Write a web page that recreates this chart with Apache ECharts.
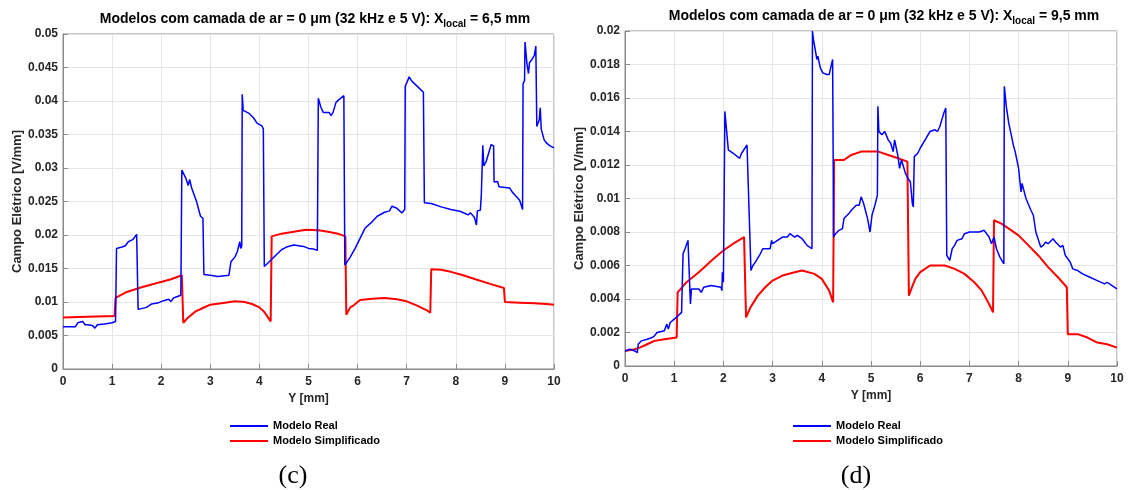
<!DOCTYPE html>
<html>
<head>
<meta charset="utf-8">
<script src="https://cdn.jsdelivr.net/npm/echarts@6/dist/echarts.min.js"></script>
<style>
  html, body { margin: 0; padding: 0; background: #fff; }
  #chart { width: 1128px; height: 490px; }
</style>
</head>
<body>
<div id="chart"></div>
<script>
// Campo elétrico ao longo de Y para dois X_local (pares [Y em mm, campo em V/mm])
const seriesNames = ['Modelo Real', 'Modelo Simplificado'];
const captions = ['(c)', '(d)'];
const xLocals = ['6,5 mm', '9,5 mm'];

// X_local = 6,5 mm
const realC = [
  [0,0.0063],[0.25,0.0063],[0.3,0.0069],[0.4,0.0071],[0.45,0.0066],[0.5,0.0066],[0.6,0.0065],[0.65,0.0061],
  [0.7,0.0066],[0.85,0.0067],[1.0,0.0069],[1.07,0.0071],[1.09,0.018],[1.2,0.0182],[1.27,0.0184],[1.33,0.019],
  [1.42,0.0193],[1.5,0.0201],[1.53,0.0089],[1.7,0.0092],[1.8,0.0097],[1.95,0.0099],[2.05,0.0102],[2.15,0.0104],
  [2.2,0.0101],[2.25,0.0106],[2.4,0.011],[2.42,0.0297],[2.5,0.0285],[2.55,0.0274],[2.58,0.0283],[2.62,0.027],
  [2.72,0.025],[2.8,0.0228],[2.85,0.0225],[2.87,0.0141],[3.0,0.014],[3.15,0.0138],[3.38,0.014],[3.42,0.016],
  [3.5,0.0167],[3.55,0.0175],[3.6,0.019],[3.62,0.018],[3.64,0.0183],[3.65,0.041],[3.67,0.0386],[3.78,0.0382],
  [3.88,0.0375],[3.95,0.0367],[4.05,0.0363],[4.08,0.0358],[4.1,0.0153],[4.2,0.016],[4.35,0.0171],[4.45,0.0178],
  [4.55,0.0182],[4.7,0.0185],[4.9,0.0183],[5.0,0.018],[5.1,0.0179],[5.18,0.0177],[5.2,0.0404],[5.25,0.0391],
  [5.3,0.0383],[5.42,0.0383],[5.46,0.0378],[5.5,0.0383],[5.56,0.0398],[5.62,0.0402],[5.66,0.0404],[5.72,0.0408],
  [5.74,0.0155],[5.85,0.0167],[5.95,0.018],[6.05,0.0195],[6.15,0.021],[6.3,0.022],[6.4,0.0228],[6.55,0.0234],
  [6.65,0.0236],[6.7,0.0243],[6.8,0.024],[6.9,0.0233],[6.96,0.0238],[6.97,0.0422],[7.0,0.0427],[7.05,0.0436],
  [7.1,0.043],[7.2,0.0423],[7.34,0.0413],[7.36,0.0248],[7.5,0.0247],[7.7,0.0242],[7.9,0.0238],[8.1,0.0235],
  [8.25,0.023],[8.3,0.0233],[8.38,0.0226],[8.42,0.0215],[8.44,0.0236],[8.5,0.0237],[8.52,0.026],[8.55,0.0334],
  [8.57,0.0303],[8.62,0.031],[8.68,0.0325],[8.72,0.0335],[8.77,0.0333],[8.78,0.0279],[8.85,0.028],[8.88,0.0272],
  [9.0,0.0271],[9.1,0.027],[9.15,0.0264],[9.2,0.026],[9.25,0.0256],[9.3,0.0252],[9.36,0.0238],[9.37,0.0426],
  [9.4,0.043],[9.41,0.0488],[9.45,0.0455],[9.48,0.0441],[9.5,0.0457],[9.55,0.0462],[9.6,0.0468],[9.63,0.0482],
  [9.65,0.0362],[9.7,0.0372],[9.72,0.039],[9.74,0.0358],[9.77,0.0357],[9.8,0.0342],[9.85,0.0337],[9.92,0.0333],
  [10,0.033]
];
const simpC = [
  [0,0.0077],[0.5,0.0078],[1.05,0.0079],[1.07,0.0106],[1.3,0.0115],[1.6,0.0122],[1.9,0.0128],[2.2,0.0134],
  [2.42,0.014],[2.45,0.0069],[2.55,0.0077],[2.7,0.0086],[2.85,0.0091],[3.0,0.0096],[3.3,0.0099],[3.5,0.0101],
  [3.7,0.01],[3.85,0.0097],[4.0,0.0092],[4.1,0.0085],[4.23,0.0071],[4.25,0.0198],[4.45,0.0202],[4.7,0.0205],
  [4.95,0.0208],[5.2,0.0207],[5.4,0.0205],[5.6,0.0202],[5.75,0.0198],[5.77,0.0081],[5.85,0.0092],[5.92,0.0095],
  [6.05,0.0103],[6.3,0.0105],[6.55,0.0106],[6.8,0.0104],[7.0,0.0101],[7.2,0.0095],[7.4,0.0088],[7.48,0.0084],
  [7.5,0.0149],[7.7,0.0148],[7.9,0.0145],[8.15,0.014],[8.4,0.0134],[8.7,0.0127],[8.98,0.0121],[9.0,0.01],
  [9.3,0.0099],[9.6,0.0098],[9.85,0.0097],[10,0.0096]
];

// X_local = 9,5 mm
const realD = [
  [0,0.0009],[0.1,0.001],[0.2,0.0009],[0.25,0.0008],[0.27,0.0013],[0.3,0.0012],[0.33,0.0015],[0.45,0.0016],
  [0.55,0.0017],[0.6,0.0018],[0.65,0.002],[0.8,0.0021],[0.85,0.0025],[0.88,0.0022],[0.92,0.0026],[1.0,0.0028],
  [1.08,0.003],[1.15,0.0032],[1.18,0.0067],[1.22,0.007],[1.28,0.0075],[1.33,0.0037],[1.35,0.0046],[1.5,0.0046],
  [1.55,0.0044],[1.6,0.0047],[1.75,0.0048],[1.95,0.0047],[1.97,0.0045],[1.98,0.0056],[2.0,0.005],[2.02,0.0051],
  [2.03,0.0152],[2.1,0.0129],[2.2,0.0127],[2.33,0.0124],[2.37,0.0127],[2.48,0.0132],[2.56,0.0057],[2.6,0.006],
  [2.65,0.0062],[2.75,0.0067],[2.8,0.007],[2.95,0.007],[2.98,0.0075],[3.0,0.0073],[3.1,0.0075],[3.2,0.0077],
  [3.3,0.0077],[3.35,0.0079],[3.45,0.0077],[3.5,0.0078],[3.6,0.0076],[3.7,0.0072],[3.8,0.007],[3.81,0.02],
  [3.83,0.0195],[3.9,0.0183],[3.92,0.0185],[3.97,0.0178],[4.02,0.0175],[4.1,0.0174],[4.15,0.0174],[4.18,0.0178],
  [4.22,0.0183],[4.24,0.0077],[4.28,0.0079],[4.35,0.0081],[4.42,0.0082],[4.45,0.0088],[4.55,0.0091],[4.6,0.0093],
  [4.7,0.0096],[4.76,0.0096],[4.8,0.0101],[4.85,0.0097],[4.93,0.0088],[4.98,0.008],[5.02,0.009],[5.08,0.0096],
  [5.13,0.0102],[5.14,0.0155],[5.16,0.014],[5.22,0.0138],[5.28,0.014],[5.35,0.0135],[5.4,0.0133],[5.45,0.0128],
  [5.48,0.0135],[5.55,0.0125],[5.58,0.0118],[5.62,0.0123],[5.7,0.0115],[5.75,0.0112],[5.8,0.011],[5.84,0.0097],
  [5.86,0.0095],[5.88,0.0125],[5.95,0.0127],[6.0,0.013],[6.1,0.0135],[6.2,0.014],[6.3,0.0141],[6.35,0.014],
  [6.4,0.0143],[6.45,0.0148],[6.48,0.0151],[6.52,0.0154],[6.54,0.0066],[6.6,0.0063],[6.65,0.007],[6.7,0.0072],
  [6.75,0.0075],[6.85,0.0076],[6.9,0.0079],[7.0,0.008],[7.2,0.008],[7.3,0.0081],[7.4,0.0077],[7.45,0.0073],
  [7.5,0.0077],[7.55,0.007],[7.62,0.0065],[7.7,0.0061],[7.71,0.0167],[7.75,0.0155],[7.8,0.0145],[7.85,0.0138],
  [7.9,0.0131],[7.93,0.0128],[8.0,0.0118],[8.02,0.0112],[8.05,0.0104],[8.07,0.0109],[8.15,0.01],[8.25,0.0093],
  [8.3,0.009],[8.35,0.008],[8.45,0.0071],[8.5,0.0072],[8.55,0.0074],[8.6,0.0073],[8.7,0.0076],[8.75,0.0074],
  [8.85,0.0071],[8.9,0.0072],[8.95,0.0066],[9.0,0.0064],[9.05,0.0062],[9.1,0.0058],[9.2,0.0057],[9.3,0.0055],
  [9.45,0.0053],[9.6,0.0051],[9.75,0.0049],[9.8,0.005],[9.9,0.0048],[10,0.0046]
];
const simpD = [
  [0,0.0009],[0.2,0.001],[0.3,0.0011],[0.45,0.0013],[0.6,0.0015],[0.8,0.0016],[1.05,0.0017],[1.07,0.0044],
  [1.25,0.005],[1.5,0.0056],[1.8,0.0064],[2.0,0.0069],[2.2,0.0073],[2.42,0.0077],[2.46,0.0029],[2.55,0.0035],
  [2.7,0.0042],[2.85,0.0047],[3.0,0.0051],[3.2,0.0054],[3.45,0.0056],[3.6,0.0057],[3.85,0.0055],[4.0,0.0052],
  [4.15,0.0045],[4.23,0.0038],[4.25,0.0123],[4.45,0.0123],[4.6,0.0126],[4.8,0.0128],[5.0,0.0128],[5.15,0.0128],
  [5.35,0.0126],[5.55,0.0124],[5.74,0.0122],[5.77,0.0042],[5.82,0.0046],[5.9,0.0052],[6.0,0.0056],[6.1,0.0058],
  [6.2,0.006],[6.5,0.006],[6.7,0.0058],[6.9,0.0055],[7.1,0.005],[7.25,0.0045],[7.4,0.0037],[7.48,0.0032],
  [7.5,0.0087],[7.65,0.0085],[7.8,0.0082],[8.0,0.0078],[8.2,0.0072],[8.4,0.0066],[8.6,0.0059],[8.8,0.0053],
  [8.98,0.0047],[9.0,0.0019],[9.2,0.0019],[9.4,0.0017],[9.6,0.0014],[9.8,0.0013],[10,0.0011]
];

// Eixos
const xRange = { min: 0, max: 10, interval: 1 };
const yRanges = [
  { min: 0, max: 0.05, interval: 0.005 },
  { min: 0, max: 0.02, interval: 0.002 }
];

const axisColor = '#8a8a8a';
const textColor = '#262626';
const gridColor = '#e6e6e6';
const sansFont = '"Liberation Sans", Arial, sans-serif';

const grids = [
  { left: 63, top: 34, width: 491, height: 335 },
  { left: 625, top: 31, width: 492, height: 335 }
];
const titleCenters = [310, 879];
const legendLefts = [230, 793];
const captionCenters = [288, 851];

function fmt(v) { return String(+v.toFixed(4)); }

const option = {
  animation: false,
  backgroundColor: '#ffffff',
  title: [0, 1].map(i => ({
    text: '{a|Modelos com camada de ar = 0 μm (32 kHz e 5 V): X}{s|local}{a| = ' + xLocals[i] + '}',
    left: titleCenters[i],
    top: i === 0 ? 4 : 1,
    textAlign: 'center',
    textStyle: {
      rich: {
        a: { fontFamily: sansFont, fontWeight: 'bold', fontSize: 14, color: '#000' },
        s: { fontFamily: sansFont, fontWeight: 'bold', fontSize: 10, color: '#000', padding: [10, 0, 0, 0] }
      }
    }
  })).concat(captions.map((c, i) => ({
    text: c,
    left: captionCenters[i],
    top: 458,
    textAlign: 'center',
    textStyle: { fontFamily: '"Liberation Serif", "DejaVu Serif", serif', fontWeight: 'normal', fontSize: 26, color: '#000' }
  }))),
  legend: [0, 1].map(i => ({
    data: seriesNames,
    orient: 'vertical',
    left: legendLefts[i],
    top: 419,
    padding: 0,
    itemWidth: 38,
    itemHeight: 2,
    itemGap: 1,
    icon: 'rect',
    selectedMode: false,
    textStyle: { fontFamily: sansFont, fontWeight: 'bold', fontSize: 11, color: '#000', lineHeight: 14 }
  })),
  grid: grids.map(g => Object.assign({ show: true, borderColor: axisColor, borderWidth: 1, backgroundColor: '#fff' }, g)),
  xAxis: [0, 1].map(i => ({
    type: 'value',
    gridIndex: i,
    min: xRange.min, max: xRange.max, interval: xRange.interval,
    name: 'Y [mm]',
    nameLocation: 'middle',
    nameGap: 22,
    nameTextStyle: { fontFamily: sansFont, fontWeight: 'bold', fontSize: 12, color: textColor },
    axisLine: { show: true, lineStyle: { color: axisColor } },
    axisTick: { show: true, inside: true, length: 5, lineStyle: { color: axisColor } },
    axisLabel: { fontFamily: sansFont, fontWeight: 'bold', fontSize: 12, color: textColor, margin: 7, formatter: fmt },
    splitLine: { show: true, lineStyle: { color: gridColor, width: 1 } }
  })),
  yAxis: [0, 1].map(i => ({
    type: 'value',
    gridIndex: i,
    min: yRanges[i].min, max: yRanges[i].max, interval: yRanges[i].interval,
    name: 'Campo Elétrico [V/mm]',
    nameLocation: 'middle',
    nameGap: 38,
    nameTextStyle: { fontFamily: sansFont, fontWeight: 'bold', fontSize: 13, color: textColor },
    axisLine: { show: true, lineStyle: { color: axisColor } },
    axisTick: { show: true, inside: true, length: 5, lineStyle: { color: axisColor } },
    axisLabel: { fontFamily: sansFont, fontWeight: 'bold', fontSize: 12, color: textColor, margin: 5, formatter: fmt },
    splitLine: { show: true, lineStyle: { color: gridColor, width: 1 } }
  })),
  series: [
    { name: seriesNames[0], data: realC, idx: 0, color: '#0000ff', w: 1.5 },
    { name: seriesNames[1], data: simpC, idx: 0, color: '#ff0000', w: 2 },
    { name: seriesNames[0], data: realD, idx: 1, color: '#0000ff', w: 1.5 },
    { name: seriesNames[1], data: simpD, idx: 1, color: '#ff0000', w: 2 }
  ].map(s => ({
    type: 'line',
    name: s.name,
    xAxisIndex: s.idx,
    yAxisIndex: s.idx,
    data: s.data,
    showSymbol: false,
    symbol: 'none',
    clip: true,
    color: s.color,
    lineStyle: { color: s.color, width: s.w },
    z: s.name === seriesNames[0] ? 3 : 2
  }))
};

const chart = echarts.init(document.getElementById('chart'), null, { renderer: 'canvas' });
chart.setOption(option);
</script>
</body>
</html>
